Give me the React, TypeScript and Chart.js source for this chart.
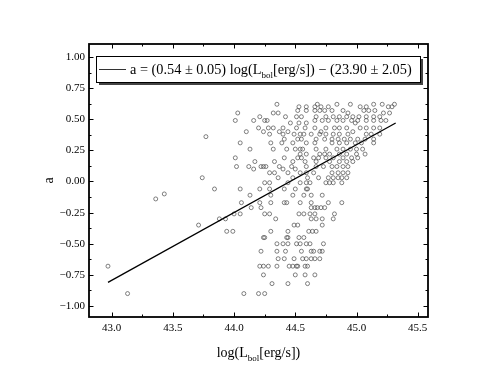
import React, { useEffect, useRef } from "react";
import { Chart, registerables } from "chart.js";

Chart.register(...registerables);

const FONT = '"Liberation Serif", "Times New Roman", serif';

const xMajorTicks = [43.0, 43.5, 44.0, 44.5, 45.0, 45.5];
const xMinorTicks = [43.25, 43.75, 44.25, 44.75, 45.25];
const yMajorTicks = [-1.0, -0.75, -0.5, -0.25, 0.0, 0.25, 0.5, 0.75, 1.0];
const yMinorTicks = [-0.875, -0.625, -0.375, -0.125, 0.125, 0.375, 0.625, 0.875];

const fitX = [42.97, 45.32];
const fitY = [-0.81, 0.47];

const legendParts = ["a = (0.54 ± 0.05) log(L", "bol", "[erg/s]) − (23.90 ± 2.05)"];
const xTitleParts = ["log(L", "bol", "[erg/s])"];
const yTitle = "a";

// rows of points: [a value, list of log L values]
const upperRows: [number, number[]][] = [
  [0.62, [44.35, 44.68, 44.84, 44.95, 45.14, 45.21, 45.31]],
  [0.60, [44.53, 44.59, 44.66, 44.71, 44.77, 45.03, 45.08, 45.26, 45.29]],
  [0.57, [44.52, 44.59, 44.66, 44.70, 44.74, 44.80, 44.89, 45.06, 45.10, 45.15]],
  [0.55, [44.03, 44.32, 44.36, 44.93, 45.22, 45.27]],
  [0.52, [44.21, 44.42, 44.51, 44.55, 44.67, 44.75, 44.81, 44.86, 44.92, 44.97, 45.02, 45.08, 45.14, 45.19]],
  [0.49, [44.01, 44.16, 44.25, 44.27, 44.66, 44.72, 44.77, 44.84, 44.89, 44.96, 45.01, 45.08, 45.14, 45.20, 45.24]],
  [0.47, [44.46, 44.53, 44.59, 44.99]],
  [0.43, [44.20, 44.28, 44.32, 44.40, 44.51, 44.58, 44.66, 44.75, 44.82, 44.86, 44.92, 45.03, 45.08, 45.14, 45.19]],
  [0.40, [44.10, 44.24, 44.37, 44.44, 44.71, 44.97]],
  [0.38, [44.29, 44.40, 44.49, 44.54, 44.57, 44.63, 44.70, 44.75, 44.81, 44.86, 44.93, 45.08, 45.12, 45.19]],
  [0.34, [44.41, 44.52, 44.55, 44.67, 44.74, 44.80, 44.85, 44.90, 44.95, 45.01, 45.07, 45.14]],
  [0.31, [44.05, 44.30, 44.39, 44.48, 44.59, 44.66, 44.80, 44.86, 44.92, 44.99, 45.04, 45.14]],
  [0.26, [44.13, 44.32, 44.43, 44.50, 44.54, 44.56, 44.67, 44.75, 44.84, 44.89, 44.95, 45.00, 45.05]],
  [0.22, [44.54, 44.59, 44.70, 44.74, 44.78, 44.86, 44.92, 45.00, 45.07]],
  [0.19, [44.01, 44.41, 44.52, 44.55, 44.65, 44.69, 44.75, 44.81, 44.89, 44.96, 45.01]],
  [0.16, [44.17, 44.33, 44.48, 44.58, 44.67, 44.78, 44.86, 44.92, 44.97]],
  [0.12, [44.02, 44.12, 44.22, 44.24, 44.26, 44.37, 44.47, 44.59, 44.67, 44.73, 44.80, 44.84, 44.89, 44.93]],
  [0.10, [44.16, 44.40, 44.50]],
  [0.07, [44.29, 44.33, 44.44, 44.54, 44.59, 44.65, 44.80, 44.85, 44.89, 44.93]],
  [0.03, [43.74, 44.36, 44.48, 44.60, 44.69, 44.77, 44.81, 44.85, 44.88, 44.92]],
  [-0.01, [44.25, 44.29, 44.44, 44.54, 44.59, 44.62, 44.75, 44.78, 44.81, 44.88]],
  [-0.06, [43.84, 44.05, 44.21, 44.29, 44.41, 44.50, 44.59, 44.60]],
  [-0.11, [44.13, 44.30, 44.48, 44.57, 44.63, 44.72]],
];

const lowerRows: [number, number[]][] = [
  [-0.17, [44.06, 44.21, 44.30, 44.41, 44.43, 44.54, 44.63, 44.77, 44.88]],
  [-0.21, [44.14, 44.22, 44.63, 44.66, 44.68, 44.71, 44.74]],
  [-0.26, [44.00, 44.05, 44.25, 44.29, 44.53, 44.57, 44.62, 44.66, 44.82]],
  [-0.30, [43.88, 43.93, 44.34, 44.63, 44.67, 44.72, 44.81]],
  [-0.35, [43.71, 44.49, 44.52, 44.72]],
  [-0.40, [43.94, 43.99, 44.30, 44.44, 44.61, 44.64, 44.67]],
  [-0.45, [44.24, 44.25, 44.43, 44.44, 44.53, 44.57]],
  [-0.50, [44.35, 44.40, 44.44, 44.51, 44.54, 44.59, 44.62, 44.73]],
  [-0.56, [44.22, 44.35, 44.42, 44.55, 44.63, 44.65, 44.70, 44.72]],
  [-0.62, [44.36, 44.41, 44.49, 44.56, 44.59, 44.63, 44.66, 44.70]],
  [-0.68, [42.97, 44.21, 44.24, 44.28, 44.35, 44.45, 44.48, 44.51, 44.52, 44.58, 44.60]],
  [-0.75, [44.24, 44.50, 44.58, 44.66]],
  [-0.82, [44.31, 44.44, 44.60]],
  [-0.90, [43.13, 44.08, 44.20, 44.25]],
];

const isolatedPoints: [number, number][] = [
  [43.36, -0.14],
  [43.43, -0.10],
  [43.77, 0.36],
];

function rowsToPoints(rows: [number, number[]][]) {
  const out: { x: number; y: number }[] = [];
  rows.forEach(([y, xs]) => xs.forEach((x) => out.push({ x, y })));
  return out;
}

function drawSubText(
  ctx: CanvasRenderingContext2D,
  parts: string[],
  x: number,
  y: number,
  size: number,
  center: boolean
) {
  const big = `${size}px ${FONT}`;
  const small = `${Math.round(size * 0.62)}px ${FONT}`;
  ctx.font = big;
  const w0 = ctx.measureText(parts[0]).width;
  const w2 = ctx.measureText(parts[2]).width;
  ctx.font = small;
  const w1 = ctx.measureText(parts[1]).width;
  let sx = center ? x - (w0 + w1 + w2) / 2 : x;
  ctx.textAlign = "left";
  ctx.textBaseline = "alphabetic";
  ctx.font = big;
  ctx.fillText(parts[0], sx, y);
  sx += w0;
  ctx.font = small;
  ctx.fillText(parts[1], sx, y + size * 0.25);
  sx += w1;
  ctx.font = big;
  ctx.fillText(parts[2], sx, y);
}

const decorPlugin = {
  id: "decor",
  afterDraw(chart: any) {
    const { ctx, chartArea: a, scales } = chart;
    const xs = scales.x;
    const ys = scales.y;
    ctx.save();
    ctx.strokeStyle = "#000";
    ctx.fillStyle = "#000";
    const seg = (x1: number, y1: number, x2: number, y2: number) => {
      ctx.beginPath();
      ctx.moveTo(x1, y1);
      ctx.lineTo(x2, y2);
      ctx.stroke();
    };
    const major = 4.5;
    const minor = 2.5;
    ctx.lineWidth = 1;
    xMajorTicks.forEach((v) => {
      const p = Math.round(xs.getPixelForValue(v)) + 0.5;
      seg(p, a.bottom, p, a.bottom - major);
      seg(p, a.top, p, a.top + major);
    });
    xMinorTicks.forEach((v) => {
      const p = Math.round(xs.getPixelForValue(v)) + 0.5;
      seg(p, a.bottom, p, a.bottom - minor);
      seg(p, a.top, p, a.top + minor);
    });
    yMajorTicks.forEach((v) => {
      const p = Math.round(ys.getPixelForValue(v)) + 0.5;
      seg(a.left, p, a.left + major, p);
      seg(a.right, p, a.right - major, p);
    });
    yMinorTicks.forEach((v) => {
      const p = Math.round(ys.getPixelForValue(v)) + 0.5;
      seg(a.left, p, a.left + minor, p);
      seg(a.right, p, a.right - minor, p);
    });
    ctx.lineWidth = 1.8;
    ctx.strokeRect(a.left, a.top, a.right - a.left, a.bottom - a.top);

    // legend box with shadow
    const bx = 96, by = 56, bw = 324, bh = 26;
    ctx.fillStyle = "#444";
    ctx.fillRect(bx + 3, by + 3, bw, bh);
    ctx.fillStyle = "#fff";
    ctx.fillRect(bx, by, bw, bh);
    ctx.lineWidth = 1;
    ctx.strokeStyle = "#000";
    ctx.strokeRect(bx + 0.5, by + 0.5, bw, bh);
    ctx.strokeStyle = "#333";
    seg(99, by + 13.5, 126, by + 13.5);
    ctx.fillStyle = "#000";
    drawSubText(ctx, legendParts, 130, by + 18, 14.3, false);

    // axis titles
    drawSubText(ctx, xTitleParts, (a.left + a.right) / 2, 357, 14, true);
    ctx.save();
    ctx.translate(53, (a.top + a.bottom) / 2);
    ctx.rotate(-Math.PI / 2);
    ctx.font = `14px ${FONT}`;
    ctx.textAlign = "center";
    ctx.textBaseline = "alphabetic";
    ctx.fillText(yTitle, 0, 0);
    ctx.restore();
    ctx.restore();
  },
};

export default function App() {
  const ref = useRef<HTMLCanvasElement | null>(null);
  useEffect(() => {
    document.body.style.margin = "0";
    const canvas = ref.current;
    if (!canvas) return;
    const points = [
      ...rowsToPoints(upperRows),
      ...rowsToPoints(lowerRows),
      ...isolatedPoints.map(([x, y]) => ({ x, y })),
    ];
    const chart = new Chart(canvas, {
      type: "scatter",
      data: {
        datasets: [
          {
            type: "line",
            data: fitX.map((x, i) => ({ x, y: fitY[i] })),
            borderColor: "#000",
            borderWidth: 1.3,
            pointRadius: 0,
            showLine: true,
            fill: false,
          } as any,
          {
            type: "scatter",
            data: points,
            pointRadius: 2,
            pointBorderWidth: 0.7,
            pointBorderColor: "#4a4a4a",
            pointBackgroundColor: "rgba(0,0,0,0)",
            borderColor: "#4a4a4a",
            backgroundColor: "rgba(0,0,0,0)",
          },
        ],
      },
      options: {
        animation: false,
        responsive: false,
        events: [],
        layout: { padding: { left: 0, right: 70, top: 44, bottom: 0 } },
        plugins: { legend: { display: false }, tooltip: { enabled: false } },
        scales: {
          x: {
            type: "linear",
            min: 42.815,
            max: 45.584,
            grid: { display: false, drawTicks: false },
            border: { display: false },
            afterBuildTicks: (s: any) => {
              s.ticks = xMajorTicks.map((v) => ({ value: v }));
            },
            afterFit: (s: any) => {
              s.height = 65;
            },
            ticks: {
              padding: 5,
              color: "#000",
              maxRotation: 0,
              autoSkip: false,
              font: { family: FONT, size: 11 },
              callback: (v: any) => Number(v).toFixed(1),
            },
          },
          y: {
            type: "linear",
            min: -1.088,
            max: 1.104,
            grid: { display: false, drawTicks: false },
            border: { display: false },
            afterBuildTicks: (s: any) => {
              s.ticks = yMajorTicks.map((v) => ({ value: v }));
            },
            afterFit: (s: any) => {
              s.width = 89;
            },
            ticks: {
              padding: 4,
              color: "#000",
              autoSkip: false,
              font: { family: FONT, size: 11 },
              callback: (v: any) => Number(v).toFixed(2).replace("-", "\u2212"),
            },
          },
        },
      },
      plugins: [decorPlugin],
    });
    return () => chart.destroy();
  }, []);
  return (
    <div style={{ position: "absolute", left: 0, top: 0, width: 498, height: 382 }}>
      <canvas ref={ref} width={498} height={382} style={{ display: "block" }} />
    </div>
  );
}
